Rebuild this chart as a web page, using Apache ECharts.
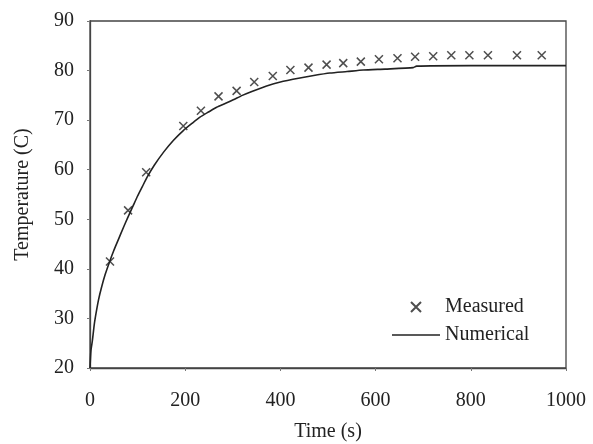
<!DOCTYPE html>
<html>
<head>
<meta charset="utf-8">
<script src="https://cdn.jsdelivr.net/npm/echarts@6/dist/echarts.min.js"></script>
<style>
  html, body { margin: 0; padding: 0; background: #fff; }
  #chart { width: 593px; height: 444px; }
</style>
</head>
<body>
<div id="chart"></div>
<script>
// Measured temperatures (thermocouple readings)
const measuredTime = [42, 80, 118, 196, 233, 270, 308, 345, 384, 421, 459, 497, 532, 569, 607, 646, 683, 721, 759, 797, 836, 897, 949];
const measuredTemp = [41.5, 51.8, 59.5, 68.8, 71.9, 74.8, 75.9, 77.7, 78.9, 80.1, 80.6, 81.2, 81.5, 81.8, 82.3, 82.5, 82.8, 82.9, 83.1, 83.1, 83.1, 83.1, 83.1];

// Numerical model output
const numericalTime = [0, 2, 5, 9, 13, 18, 24, 32, 41, 50, 60, 70, 80, 90, 100, 110, 120, 135, 155, 175, 196, 215, 231, 250, 266, 285, 301, 320, 340, 371, 400, 441, 470, 504, 540, 574, 620, 679, 686, 800, 1000];
const numericalTemp = [20, 23.5, 25.5, 28.8, 31.2, 33.8, 36.2, 38.9, 41.4, 43.7, 46.0, 48.3, 50.5, 52.6, 54.7, 56.6, 58.5, 60.9, 63.6, 65.9, 67.9, 69.4, 70.6, 71.7, 72.6, 73.4, 74.1, 75.0, 75.8, 76.9, 77.7, 78.5, 79.0, 79.5, 79.8, 80.1, 80.3, 80.6, 80.9, 81.0, 81.0];

const xTicks = { min: 0, max: 1000, interval: 200 };
const yTicks = { min: 20, max: 90, interval: 10 };

const zip = (a, b) => a.map((v, i) => [v, b[i]]);
const font = 'Liberation Serif';
const crossPath = 'path://M0,0L10,10M10,0L0,10';
const dashIcon = 'path://M0,0H48V1.6H0Z';

const chart = echarts.init(document.getElementById('chart'));
chart.setOption({
  animation: false,
  backgroundColor: '#fff',
  grid: {
    left: 90, right: 27, top: 21, bottom: 76,
    outerBoundsMode: 'none',
    show: true, borderColor: '#444', borderWidth: 1.3
  },
  legend: {
    orient: 'vertical',
    left: 387, top: 292,
    itemWidth: 48, itemHeight: 10, itemGap: 8,
    textStyle: { fontFamily: font, fontSize: 20, color: '#222' },
    data: [
      { name: 'Measured' },
      { name: 'Numerical', icon: dashIcon, itemStyle: { color: '#222' } }
    ]
  },
  xAxis: {
    type: 'value',
    min: xTicks.min, max: xTicks.max, interval: xTicks.interval,
    name: 'Time (s)', nameLocation: 'middle', nameGap: 54,
    nameTextStyle: { fontFamily: font, fontSize: 20, color: '#222' },
    axisLine: { lineStyle: { color: '#444', width: 1.3 } },
    axisTick: { show: true, inside: false, length: 3, lineStyle: { color: '#777' } },
    axisLabel: { fontFamily: font, fontSize: 20, color: '#222', margin: 23, formatter: v => String(v) },
    splitLine: { show: false }
  },
  yAxis: {
    type: 'value',
    min: yTicks.min, max: yTicks.max, interval: yTicks.interval,
    name: 'Temperature (C)', nameLocation: 'middle', nameGap: 57,
    nameTextStyle: { fontFamily: font, fontSize: 20, color: '#222' },
    axisLine: { lineStyle: { color: '#444', width: 1.3 } },
    axisTick: { show: true, inside: false, length: 3, lineStyle: { color: '#777' } },
    axisLabel: { fontFamily: font, fontSize: 20, color: '#222', margin: 16 },
    splitLine: { show: false }
  },
  series: [
    {
      name: 'Measured',
      type: 'scatter',
      data: zip(measuredTime, measuredTemp),
      symbol: crossPath,
      symbolSize: 8,
      itemStyle: { color: 'none', borderColor: '#222', borderWidth: 1.5 },
      z: 3
    },
    {
      name: 'Numerical',
      type: 'line',
      data: zip(numericalTime, numericalTemp),
      symbol: 'none',
      smooth: 0.2,
      lineStyle: { color: '#222', width: 1.6 },
      itemStyle: { color: '#222' },
      z: 2
    }
  ]
});
</script>
</body>
</html>
